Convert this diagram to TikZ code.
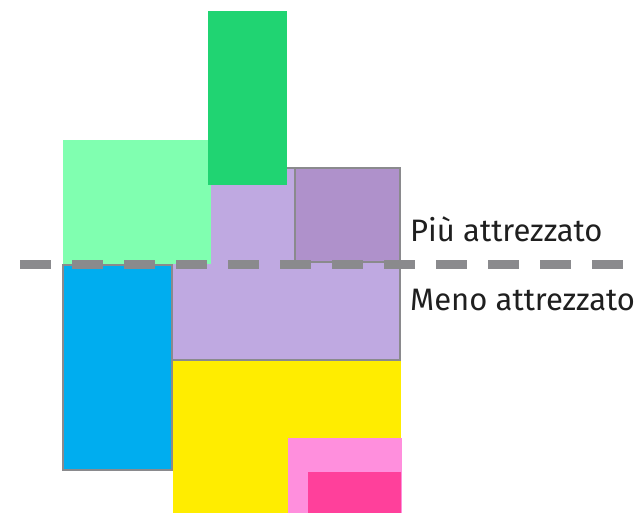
\documentclass[tikz,border=0pt]{standalone}
\usepackage{fontspec}
\setmainfont{Fira Sans}
\definecolor{pgreen}{HTML}{20D472}
\definecolor{pmint}{HTML}{80FFB0}
\definecolor{plilac}{HTML}{BFA9E1}
\definecolor{pmauve}{HTML}{AF91CB}
\definecolor{pblue}{HTML}{00ADEF}
\definecolor{pyellow}{HTML}{FFED00}
\definecolor{ppink}{HTML}{FF8FDD}
\definecolor{pfuchsia}{HTML}{FF409B}
\definecolor{pgrey}{HTML}{8A8A8D}
\newcommand{\LText}{\fontsize{31}{36}\selectfont}

\begin{document}
\begin{tikzpicture}[x=1pt, y=-1pt,
  block/.style={draw=pgrey, line width=2.2pt},
  divider/.style={draw=pgrey, line width=9pt, dash pattern=on 31pt off 21pt},
  tag/.style={anchor=base west, inner sep=0pt, text=black!88, font=\LText}
]
\useasboundingbox (0,0) rectangle (643,513);

% Blocks with grey outline.
\filldraw[block, fill=plilac] (172,168) rectangle (400,360);
\filldraw[block, fill=pmauve] (295,168) rectangle (400,262);
\filldraw[block, fill=pblue] (63,265) rectangle (172,470);

% Plain blocks on top.
\fill[pmint] (63,140) rectangle (211,264);
\fill[pgreen] (208,11) rectangle (287,185);
\fill[pyellow] (173,361) rectangle (401,513);
\fill[ppink] (288,438) rectangle (402,513);
\fill[pfuchsia] (308,472) rectangle (401,513);

% Threshold line and its labels.
\coordinate (lineL) at (20,264.5);
\coordinate (lineR) at (624,264.5);
\draw[divider] (lineL) -- (lineR);
\node[tag] (more) at (410,242) {Più attrezzato};
\node[tag] (less) at (410,310) {Meno attrezzato};
\end{tikzpicture}
\end{document}
